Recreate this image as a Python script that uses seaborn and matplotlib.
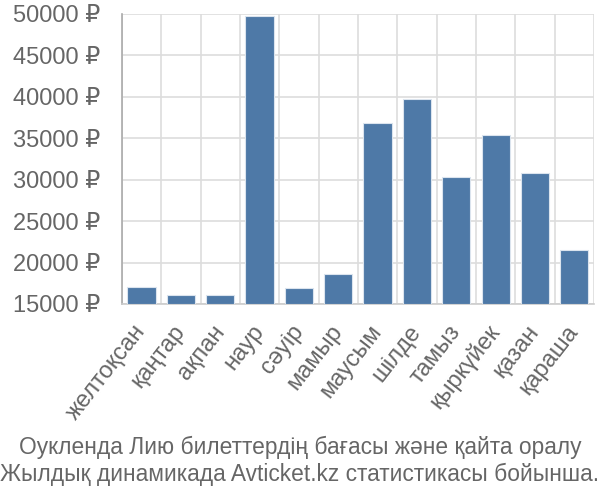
import matplotlib
matplotlib.use("Agg")
import matplotlib.pyplot as plt
import seaborn as sns
import pandas as pd

months = ["желтоқсан", "қаңтар", "ақпан", "наур", "сәуір", "мамыр",
          "маусым", "шілде", "тамыз", "қыркүйек", "қазан", "қараша"]
prices = [17000, 16100, 16100, 49750, 16980, 18620,
          36900, 39730, 30300, 35340, 30870, 21570]
yticks = [15000, 20000, 25000, 30000, 35000, 40000, 45000, 50000]
caption = ["Оукленда Лию билеттердің бағасы және қайта оралу",
           "Жылдық динамикада Avticket.kz статистикасы бойынша."]

sns.set_theme(style="white")
plt.rcParams["font.family"] = ["Liberation Sans", "DejaVu Sans"]

df = pd.DataFrame({"month": months, "price": prices})
fig = plt.figure(figsize=(6, 5), dpi=100)
ax = fig.add_axes([0.2033, 0.392, 0.7867, 0.580])
base = yticks[0]
df["h"] = df["price"] - base
sns.barplot(data=df, x="month", y="h", bottom=base, color="#4e79a7",
            saturation=1, width=0.72, edgecolor="#dbe4ee", linewidth=0.8, ax=ax, zorder=3)

ax.set_ylim(base, yticks[-1])
ax.set_xlim(-0.5, len(months) - 0.5)
ax.set_yticks(yticks)
ax.set_yticklabels([f"{v} ₽" for v in yticks], fontsize=17, color="#666666")
ax.set_xticks(range(len(months)))
ax.set_xticklabels(months, rotation=52, ha="right", va="center", rotation_mode="anchor",
                   fontsize=17, color="#666666")
ax.set_xticks([i - 0.5 for i in range(len(months) + 1)], minor=True)
ax.tick_params(axis="x", which="major", length=0, pad=17)
ax.tick_params(axis="x", which="minor", length=14, color="#dddddd", width=1.2)
ax.tick_params(axis="y", length=14, color="#dddddd", width=1.2, pad=2)
ax.grid(True, axis="y", color="#dddddd", linewidth=1.2, zorder=0)
ax.grid(True, axis="x", which="minor", color="#dddddd", linewidth=1.2, zorder=0)
ax.set_xlabel("")
ax.set_ylabel("")
for s in ["top", "right"]:
    ax.spines[s].set_visible(False)
ax.spines["left"].set_color("#aaaaaa")
ax.spines["bottom"].set_color("#cccccc")
ax.spines["left"].set_linewidth(1.2)
ax.spines["bottom"].set_linewidth(1.2)

fig.text(0.5, 0.106, caption[0], ha="center", va="center", fontsize=16.4, color="#666666")
fig.text(0.5, 0.052, caption[1], ha="center", va="center", fontsize=16.4, color="#666666")

fig.savefig("out.png", dpi=100)
